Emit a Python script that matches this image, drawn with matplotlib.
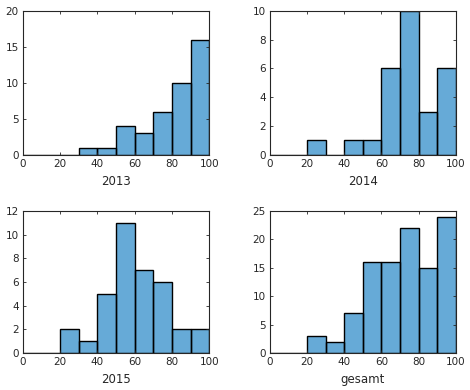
import numpy as np
import matplotlib
matplotlib.use("Agg")
import matplotlib.pyplot as plt

# Histogrammdaten (Klassen 0-10, 10-20, ..., 90-100)
bin_edges = [0, 10, 20, 30, 40, 50, 60, 70, 80, 90, 100]
counts_2013 = [0, 0, 0, 1, 1, 4, 3, 6, 10, 16]
counts_2014 = [0, 0, 1, 0, 1, 1, 6, 10, 3, 6]
counts_2015 = [0, 0, 2, 1, 5, 11, 7, 6, 2, 2]
counts_gesamt = [0, 0, 3, 2, 7, 16, 16, 22, 15, 24]

titles = ["2013", "2014", "2015", "gesamt"]
ylims = [(0, 20, 5), (0, 10, 2), (0, 12, 2), (0, 25, 5)]

text_col = "#262626"
bar_col = (0.0, 0.447, 0.741)

plt.rcParams["font.family"] = "DejaVu Sans"
plt.rcParams["font.size"] = 7.5

fig = plt.figure(figsize=(4.7, 3.9), dpi=100)
positions = [
    [0.049, 0.603, 0.396, 0.369],
    [0.574, 0.603, 0.396, 0.369],
    [0.049, 0.095, 0.396, 0.364],
    [0.574, 0.095, 0.396, 0.364],
]
all_counts = [counts_2013, counts_2014, counts_2015, counts_gesamt]

edges = np.array(bin_edges)
for pos, counts, title, (y0, y1, ystep) in zip(positions, all_counts, titles, ylims):
    ax = fig.add_axes(pos)
    ax.bar(edges[:-1], counts, width=np.diff(edges), align="edge",
           color=bar_col, alpha=0.6, edgecolor="none")
    ax.bar(edges[:-1], counts, width=np.diff(edges), align="edge",
           fill=False, edgecolor="black", linewidth=1.0)
    ax.set_xlim(0, 100)
    ax.set_ylim(y0, y1)
    ax.set_xticks(range(0, 101, 20))
    ax.set_yticks(np.arange(y0, y1 + 0.1, ystep))
    ax.set_xlabel(title, color=text_col, fontsize=8.5, labelpad=4)
    ax.tick_params(direction="in", length=2.5, width=0.6, colors=text_col,
                   top=True, right=True, pad=3, labelsize=7.5)
    for s in ax.spines.values():
        s.set_color(text_col)
        s.set_linewidth(0.8)

fig.savefig("out.png", dpi=100)
